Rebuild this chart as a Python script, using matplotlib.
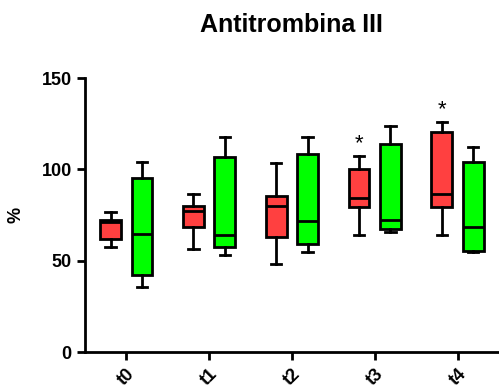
import matplotlib
matplotlib.use("Agg")
from matplotlib import pyplot as plt

plt.rcParams['font.family'] = ['Liberation Sans', 'DejaVu Sans']

times = ["t0", "t1", "t2", "t3", "t4"]

# whisker low, q1, median, q3, whisker high
red_low = [57.6, 56.2, 48.0, 64.0, 64.0]
red_q1 = [61.8, 68.6, 62.8, 79.2, 79.2]
red_med = [71.0, 77.2, 79.9, 84.1, 86.3]
red_q3 = [72.3, 80.1, 85.4, 100.2, 120.4]
red_high = [76.5, 86.3, 103.6, 107.4, 125.7]

green_low = [35.8, 52.9, 54.7, 65.9, 55.0]
green_q1 = [42.1, 57.6, 59.1, 67.2, 55.3]
green_med = [64.4, 64.0, 71.9, 72.2, 68.6]
green_q3 = [95.0, 106.6, 108.4, 113.8, 104.2]
green_high = [104.2, 117.7, 117.5, 123.7, 112.4]

stars = ["", "", "", "*", "*"]


def make_stats(low, q1, med, q3, high):
    stats = []
    for i in range(len(low)):
        stats.append({"whislo": low[i], "q1": q1[i], "med": med[i],
                      "q3": q3[i], "whishi": high[i], "fliers": []})
    return stats


fig = plt.figure(figsize=(4.99, 3.92), dpi=100)
ax = fig.add_axes([0.17, 0.102, 0.83, 0.699])

xs = list(range(len(times)))
lw = 2.0
common = dict(widths=0.25, patch_artist=True, showfliers=False,
              whiskerprops=dict(linewidth=lw, color="black"),
              capprops=dict(linewidth=lw, color="black"),
              medianprops=dict(linewidth=lw, color="black"))

b1 = ax.bxp(make_stats(red_low, red_q1, red_med, red_q3, red_high),
            positions=[x - 0.19 for x in xs], **common)
b2 = ax.bxp(make_stats(green_low, green_q1, green_med, green_q3, green_high),
            positions=[x + 0.19 for x in xs], **common)
for p in b1["boxes"]:
    p.set_facecolor("#FF4040")
    p.set_edgecolor("black")
    p.set_linewidth(lw)
for p in b2["boxes"]:
    p.set_facecolor("#00FF00")
    p.set_edgecolor("black")
    p.set_linewidth(lw)

# significance marks
for i, s in enumerate(stars):
    if s:
        ax.text(i - 0.19, red_high[i] + 1, s, ha="center", va="bottom",
                fontsize=16)

ax.set_xlim(-0.5, 4.5)
ax.set_ylim(0, 150)
ax.set_yticks([0, 50, 100, 150])
ax.set_xticks(xs)
ax.set_xticklabels(times, rotation=45, ha="right", rotation_mode="anchor")
for lab in ax.get_xticklabels() + ax.get_yticklabels():
    lab.set_fontweight("bold")
    lab.set_fontsize(13)

ax.spines["top"].set_visible(False)
ax.spines["right"].set_visible(False)
ax.spines["left"].set_linewidth(2)
ax.spines["bottom"].set_linewidth(2)
ax.tick_params(width=2, length=6)

ax.set_ylabel("%", fontsize=13, fontweight="bold", labelpad=12)
ax.set_title("Antitrombina III", fontsize=18, fontweight="bold", pad=33)

fig.savefig("out.png", dpi=100)
